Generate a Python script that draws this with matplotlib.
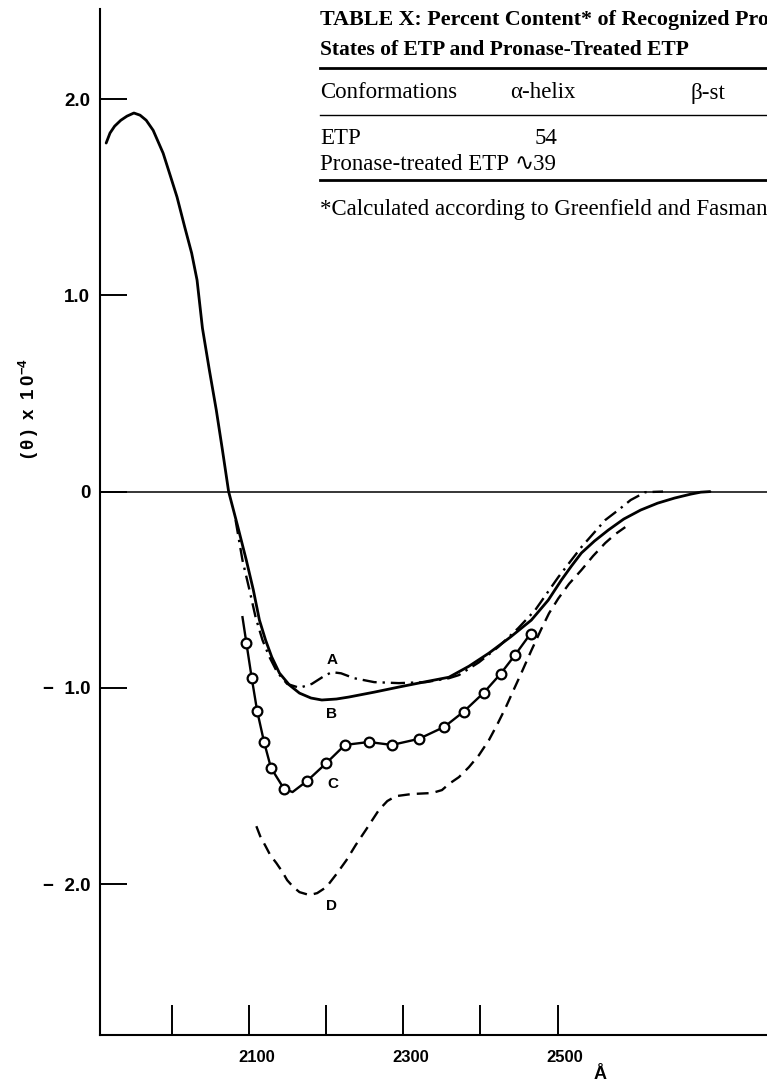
import matplotlib.pyplot as plt
from matplotlib.lines import Line2D
import matplotlib.transforms as mtransforms

plt.rcParams['mathtext.fontset'] = 'custom'
plt.rcParams['mathtext.bf'] = 'Liberation Sans:bold'
plt.rcParams['mathtext.rm'] = 'Liberation Sans:bold'

# Curva A (traço-ponto)
wl_a = [2082, 2091, 2100, 2108, 2117, 2126, 2136, 2149, 2165, 2181, 2197, 2207, 2219,
        2236, 2262, 2294, 2329, 2359, 2372, 2398, 2423, 2449, 2471, 2501, 2531, 2562,
        2579, 2595, 2614, 2637]
val_a = [-0.145, -0.35, -0.50, -0.64, -0.757, -0.843, -0.92, -0.98, -1.0, -0.98, -0.94,
         -0.92, -0.926, -0.951, -0.971, -0.976, -0.971, -0.951, -0.935, -0.87, -0.792,
         -0.696, -0.604, -0.436, -0.283, -0.145, -0.094, -0.043, -0.003, 0.0]

# Curva B (linha cheia)
wl_b = [1914, 1919, 1925, 1933, 1941, 1950, 1958, 1966, 1975, 1988, 1997, 2006, 2016,
        2025, 2032, 2039, 2048, 2057, 2065, 2073, 2085, 2096, 2105, 2113, 2121, 2129,
        2139, 2152, 2165, 2180, 2194, 2213, 2229, 2262, 2294, 2326, 2359, 2385, 2411,
        2439, 2466, 2488, 2505, 2518, 2531, 2548, 2566, 2586, 2608, 2630, 2652, 2673,
        2686, 2698]
val_b = [1.776, 1.827, 1.862, 1.892, 1.913, 1.929, 1.918, 1.892, 1.841, 1.724, 1.613,
         1.501, 1.348, 1.215, 1.078, 0.833, 0.619, 0.415, 0.211, 0.0, -0.18, -0.35,
         -0.50, -0.655, -0.757, -0.843, -0.925, -0.986, -1.027, -1.052, -1.062, -1.057,
         -1.047, -1.022, -0.996, -0.971, -0.946, -0.89, -0.823, -0.741, -0.655, -0.553,
         -0.451, -0.38, -0.313, -0.252, -0.196, -0.14, -0.094, -0.059, -0.033, -0.013,
         -0.003, 0.0]

# Curva C (círculos)
wl_c = [2091, 2096, 2103, 2110, 2119, 2128, 2145, 2156, 2175, 2200, 2224, 2255, 2285,
        2320, 2353, 2378, 2404, 2426, 2445, 2465]
val_c = [-0.64, -0.77, -0.95, -1.117, -1.276, -1.408, -1.515, -1.531, -1.474, -1.383,
         -1.291, -1.276, -1.291, -1.26, -1.199, -1.122, -1.026, -0.929, -0.832, -0.724]
marks_c = [1, 2, 3, 4, 5, 6, 8, 9, 10, 11, 12, 13, 14, 15, 16, 17, 18, 19]

# Curva D (tracejada)
wl_d = [2109, 2114, 2121, 2127, 2135, 2143, 2149, 2157, 2165, 2178, 2188, 2200, 2213,
        2226, 2238, 2251, 2268, 2279, 2290, 2311, 2337, 2350, 2359, 2372, 2385, 2398,
        2411, 2422, 2433, 2443, 2453, 2466, 2479, 2489, 2501, 2515, 2531, 2546, 2562,
        2575, 2588]
val_d = [-1.705, -1.756, -1.807, -1.852, -1.893, -1.939, -1.98, -2.015, -2.041, -2.056,
         -2.046, -2.015, -1.949, -1.878, -1.801, -1.725, -1.623, -1.577, -1.552, -1.541,
         -1.536, -1.521, -1.49, -1.455, -1.404, -1.343, -1.266, -1.185, -1.098, -1.011,
         -0.925, -0.81, -0.70, -0.62, -0.545, -0.47, -0.40, -0.329, -0.262, -0.217,
         -0.181]

# Rótulos das curvas
curve_names = ['A', 'B', 'C', 'D']
name_wl = [2207, 2207, 2209, 2206]
name_val = [-0.86, -1.133, -1.49, -2.112]

y_ticks = [2.0, 1.0, 0.0, -1.0, -2.0]
y_labels = ['2.0', '1.0', '0', '\u2212  1.0', '\u2212  2.0']
x_ticks = [2000, 2100, 2200, 2300, 2400, 2500]
x_labels = ['', '2100', '', '2300', '', '2500']

# Tabela (cortada na margem direita, como no original)
table_title = ['TABLE X: Percent Content* of Recognized Pro',
               'States of ETP and Pronase-Treated ETP']
table_head = ['Conformations', '\u03b1-helix', '\u03b2-st']
table_rows = ['ETP', 'Pronase-treated ETP']
table_helix = ['54', '\u223f39']
table_note = '*Calculated according to Greenfield and Fasman'

W, H = 767, 1090


def fx(x):
    return x / W


def fy(y):
    return 1 - y / H


fig = plt.figure(figsize=(W / 100, H / 100), dpi=100)
ax = fig.add_axes([fx(100), fy(1035), fx(767) - fx(100), fy(9) - fy(1035)])

sans = ['Liberation Sans', 'DejaVu Sans']
serif = ['Liberation Serif', 'DejaVu Serif', 'DejaVu Sans']

ax.axhline(0, color='black', lw=1.1)
ax.plot(wl_b, val_b, color='black', lw=2.0, solid_capstyle='round',
        solid_joinstyle='round')
ax.plot(wl_a, val_a, color='black', lw=1.7, dashes=(6, 2.5, 1, 2.5))
ax.plot(wl_c, val_c, color='black', lw=1.7, marker='o', markevery=marks_c, ms=7,
        mfc='white', mec='black', mew=1.6)
ax.plot(wl_d, val_d, color='black', lw=1.7, dashes=(5, 3))

for name, xw, yv in zip(curve_names, name_wl, name_val):
    ax.text(xw, yv, name, ha='center', va='center', fontsize=11, fontweight='bold',
            family=sans)

ax.set_xlim(1906, 2772)
ax.set_ylim(-2.769, 2.459)

ax.spines['top'].set_visible(False)
ax.spines['right'].set_visible(False)
ax.spines['left'].set_linewidth(1.5)
ax.spines['bottom'].set_linewidth(1.5)

ax.set_yticks(y_ticks)
ax.set_yticklabels(y_labels, fontsize=13.5, fontweight='bold', family=sans)
ax.set_xticks(x_ticks)
ax.set_xticklabels(x_labels, fontsize=12, fontweight='bold', family=sans)
ax.tick_params(axis='y', direction='in', length=19.5, width=1.4, pad=7)
ax.tick_params(axis='x', direction='in', length=21.5, width=1.4, pad=11)
offset = mtransforms.ScaledTranslation(7 / 100, 0, fig.dpi_scale_trans)
for lab in ax.get_xticklabels():
    lab.set_transform(lab.get_transform() + offset)

fig.text(fx(29), fy(408), '(\u2009θ\u2009)\u2002x\u20021\u20090' + r'$^{\mathbf{-4}}$',
         rotation=90, ha='center', va='center', fontsize=13.5, fontweight='bold',
         family=sans)
fig.text(fx(600), fy(1066), 'Å', ha='center', va='top', fontsize=13,
         fontweight='bold', family=sans)

# Tabela no canto superior direito
fig.text(fx(320), fy(20), table_title[0], ha='left', va='center', fontsize=15.8,
         fontweight='bold', family=serif)
fig.text(fx(320), fy(50), table_title[1], ha='left', va='center', fontsize=15.5,
         fontweight='bold', family=serif)
for yy, lw in [(68, 2.0), (115, 1.0), (180, 2.0)]:
    fig.add_artist(Line2D([fx(320), 1.0], [fy(yy), fy(yy)], color='black', lw=lw,
                          transform=fig.transFigure))
fig.text(fx(320), fy(93), table_head[0], ha='left', va='center', fontsize=16.5,
         family=serif)
fig.text(fx(510), fy(93), table_head[1], ha='left', va='center', fontsize=16.5,
         family=serif)
fig.text(fx(690), fy(93), table_head[2], ha='left', va='center', fontsize=16.5,
         family=serif)
for yy, row, val in zip([138, 164], table_rows, table_helix):
    fig.text(fx(320), fy(yy), row, ha='left', va='center', fontsize=16.5, family=serif)
    fig.text(fx(557), fy(yy), val, ha='right', va='center', fontsize=16.5, family=serif)
fig.text(fx(320), fy(209), table_note, ha='left', va='center', fontsize=16.5,
         family=serif)

plt.savefig('out.png', dpi=100)
